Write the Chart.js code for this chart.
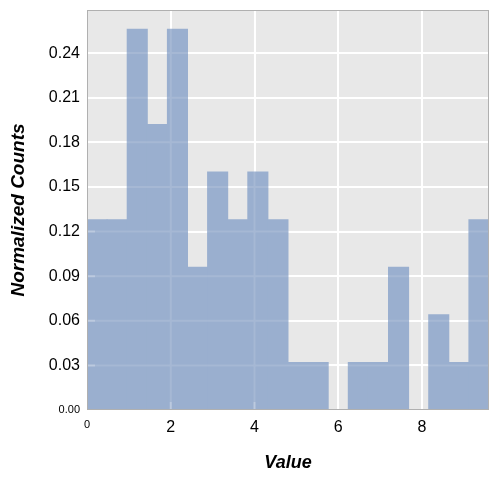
<!DOCTYPE html>
<html>
<head>
<meta charset="utf-8">
<script src="https://cdn.jsdelivr.net/npm/chart.js@4.4.1/dist/chart.umd.min.js"></script>
<style>
  html, body { margin: 0; padding: 0; background: #fff; }
  #wrap { width: 498px; height: 482px; }
</style>
</head>
<body>
<div id="wrap"><canvas id="hist"></canvas></div>
<script>
// histogram bins (width 0.48, range 0..9.6)
const binCenters = [0.24, 0.72, 1.2, 1.68, 2.16, 2.64, 3.12, 3.6, 4.08, 4.56,
                    5.04, 5.52, 6.0, 6.48, 6.96, 7.44, 7.92, 8.4, 8.88, 9.36];
const density = [0.128, 0.128, 0.256, 0.192, 0.256, 0.096, 0.160, 0.128, 0.160, 0.128,
                 0.032, 0.032, 0, 0.032, 0.032, 0.096, 0, 0.064, 0.032, 0.128];
const yTicks = [0, 0.03, 0.06, 0.09, 0.12, 0.15, 0.18, 0.21, 0.24];
const xTicks = [0, 2, 4, 6, 8];

// grey panel behind, faint grid + inward ticks showing through the bars, frame
const plotBg = {
  id: "plotBg",
  beforeDraw(chart) {
    const { ctx, chartArea: a } = chart;
    ctx.save();
    ctx.fillStyle = "#e8e8e8";
    ctx.fillRect(a.left, a.top, a.right - a.left, a.bottom - a.top);
    ctx.restore();
  },
  afterDatasetsDraw(chart) {
    const { ctx, chartArea: a, scales } = chart;
    ctx.save();
    ctx.lineWidth = 2;
    ctx.strokeStyle = "rgba(255,255,255,0.12)";
    ctx.beginPath();
    yTicks.slice(1).forEach(v => {
      const y = scales.y.getPixelForValue(v);
      ctx.moveTo(a.left, y); ctx.lineTo(a.right, y);
    });
    xTicks.slice(1).forEach(v => {
      const x = scales.x.getPixelForValue(v);
      ctx.moveTo(x, a.top); ctx.lineTo(x, a.bottom);
    });
    ctx.stroke();
    ctx.strokeStyle = "rgba(255,255,255,0.25)";
    ctx.beginPath();
    yTicks.slice(1).forEach(v => {
      const y = scales.y.getPixelForValue(v);
      ctx.moveTo(a.left, y); ctx.lineTo(a.left + 8, y);
    });
    xTicks.slice(1).forEach(v => {
      const x = scales.x.getPixelForValue(v);
      ctx.moveTo(x, a.bottom); ctx.lineTo(x, a.bottom - 8);
    });
    ctx.stroke();
    ctx.strokeStyle = "#b0b0b0";
    ctx.lineWidth = 1;
    ctx.strokeRect(a.left + 0.5, a.top + 0.5, a.right - a.left - 1, a.bottom - a.top - 1);
    ctx.restore();
  }
};

new Chart(document.getElementById("hist").getContext("2d"), {
  type: "bar",
  data: {
    datasets: [{
      data: binCenters.map((x, i) => ({ x: x, y: density[i] })),
      backgroundColor: "#9aafcf",
      borderWidth: 0,
      inflateAmount: 0.5,
      barPercentage: 1,
      categoryPercentage: 1
    }]
  },
  options: {
    responsive: true,
    maintainAspectRatio: false,
    animation: false,
    layout: { padding: { left: 0, right: 9, top: 10, bottom: 0 } },
    plugins: { legend: { display: false }, tooltip: { enabled: false } },
    scales: {
      x: {
        type: "linear",
        min: 0,
        max: 9.6,
        offset: false,
        afterBuildTicks: (s) => { s.ticks = xTicks.map(v => ({ value: v })); },
        afterFit: (s) => { s.height = 72; s.paddingLeft = 0; s.paddingRight = 0; },
        grid: { color: "#ffffff", lineWidth: 2, drawTicks: false, offset: false },
        border: { display: false },
        ticks: {
          padding: 8,
          color: "#000",
          font: (c) => ({ family: "Arial, 'Liberation Sans'", size: c.tick && c.tick.value === 0 ? 11 : 16 })
        },
        title: {
          display: true,
          text: "Value",
          color: "#000",
          font: { family: "Arial, 'Liberation Sans'", size: 18, weight: "bold", style: "italic" },
          padding: { top: 0, bottom: 8 }
        }
      },
      y: {
        min: 0,
        max: 0.269,
        afterBuildTicks: (s) => { s.ticks = yTicks.map(v => ({ value: v })); },
        afterFit: (s) => { s.width = 87; s.paddingTop = 0; s.paddingBottom = 0; },
        grid: { color: "#ffffff", lineWidth: 2, drawTicks: false },
        border: { display: false },
        ticks: {
          padding: 7,
          color: "#000",
          callback: (v) => v.toFixed(2),
          font: (c) => ({ family: "Arial, 'Liberation Sans'", size: c.tick && c.tick.value === 0 ? 11 : 16 })
        },
        title: {
          display: true,
          text: "Normalized Counts",
          color: "#000",
          font: { family: "Arial, 'Liberation Sans'", size: 19, weight: "bold", style: "italic" },
          padding: { top: 7, bottom: 0 }
        }
      }
    }
  },
  plugins: [plotBg]
});
</script>
</body>
</html>
